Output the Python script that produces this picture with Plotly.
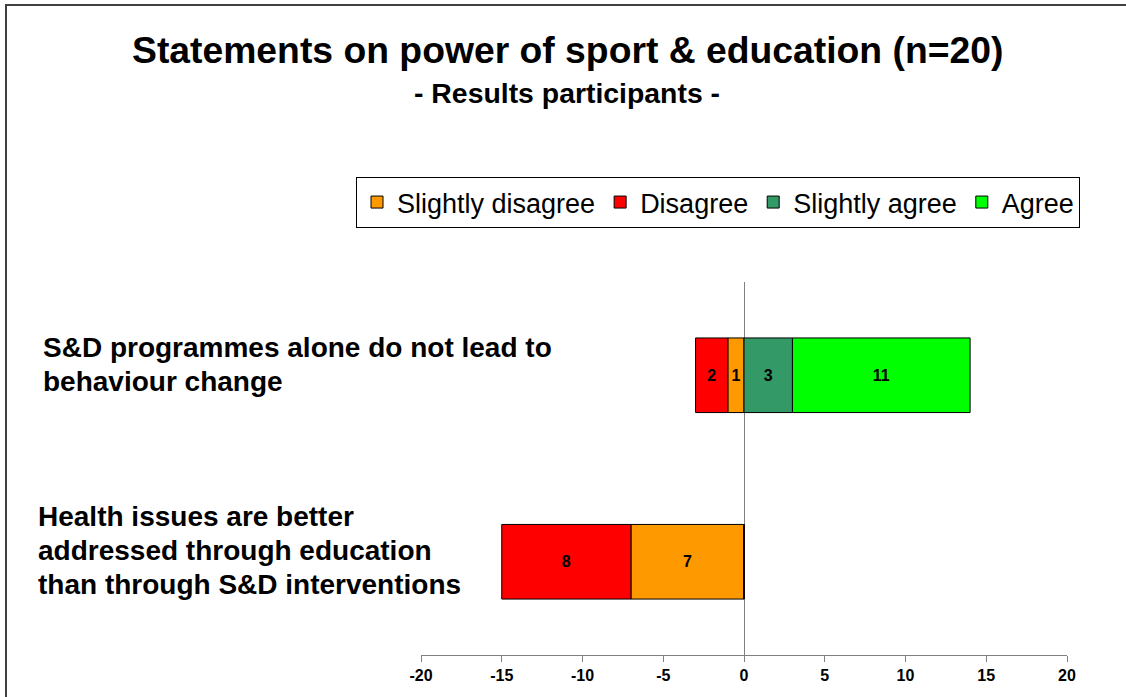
import plotly.graph_objects as go

categories = ["Health issues are better<br>addressed through education<br>than through S&D interventions",
              "S&D programmes alone do not lead to<br>behaviour change"]
series_names = ["Slightly disagree", "Disagree", "Slightly agree", "Agree"]
series_values = {
    "Slightly disagree": [-7, -1],
    "Disagree": [-8, -2],
    "Slightly agree": [0, 3],
    "Agree": [0, 11],
}
series_colors = {
    "Slightly disagree": "#FF9900",
    "Disagree": "#FF0000",
    "Slightly agree": "#339966",
    "Agree": "#00FF00",
}
tick_vals = [-20, -15, -10, -5, 0, 5, 10, 15, 20]
label_x_px = [36, 41]

FONT = "Liberation Sans, Arial, sans-serif"
W, H = 1126, 697
L, R, T, B = 421, 59, 282, 42
pw, ph = W - L - R, H - T - B

fig = go.Figure()
for name in series_names:
    vals = series_values[name]
    fig.add_trace(go.Bar(
        y=list(range(len(categories))), x=vals, orientation="h", name=name,
        marker=dict(color=series_colors[name], line=dict(color="black", width=1)),
        text=[str(abs(v)) if v != 0 else "" for v in vals],
        textposition="inside", insidetextanchor="middle",
        textfont=dict(family=FONT, size=16, color="black", weight="bold"),
        textangle=0,
        width=0.4,
    ))

annotations = []
LINE_H = 34
for i, cat in enumerate(categories):
    lines = cat.split("<br>")
    n = len(lines)
    for k, line in enumerate(lines):
        off = -11 + (k - (n - 1) / 2) * LINE_H
        annotations.append(dict(
            x=(label_x_px[i] - L) / pw, xref="paper", y=i, yref="y",
            text="<b>" + line + "</b>", showarrow=False, xanchor="left", yanchor="middle",
            align="left", yshift=-off, font=dict(family=FONT, size=28, color="black"),
        ))
annotations.append(dict(
    x=(567 - L) / pw, xref="paper", y=(655 - 50) / ph, yref="paper",
    text="<b>Statements on power of sport & education (n=20)</b>",
    showarrow=False, xanchor="center", yanchor="middle",
    font=dict(family=FONT, size=37.3, color="black"),
))
annotations.append(dict(
    x=(567 - L) / pw, xref="paper", y=(655 - 93) / ph, yref="paper",
    text="<b>- Results participants -</b>", showarrow=False, xanchor="center", yanchor="middle",
    font=dict(family=FONT, size=28.4, color="black"),
))

fig.update_layout(
    width=W, height=H,
    margin=dict(l=L, r=R, t=T, b=B),
    paper_bgcolor="white", plot_bgcolor="white",
    barmode="relative",
    showlegend=True,
    legend=dict(
        orientation="h", x=(356 - L) / pw, y=(655 - 177) / ph, xanchor="left", yanchor="top",
        bordercolor="black", borderwidth=1, bgcolor="white",
        font=dict(family=FONT, size=27, color="black"),
        traceorder="normal", itemwidth=30, tracegroupgap=0,
    ),
    xaxis=dict(
        range=[-20, 20], tickvals=tick_vals, ticktext=[str(v) for v in tick_vals],
        showgrid=False, zeroline=True, zerolinecolor="#808080", zerolinewidth=1,
        showline=True, linecolor="#808080", linewidth=1,
        ticks="outside", ticklen=6, tickcolor="#808080",
        tickfont=dict(family=FONT, size=16, color="black", weight="bold"),
        fixedrange=True,
    ),
    yaxis=dict(
        range=[-0.5, 1.5], showticklabels=False, showgrid=False, zeroline=False,
        showline=False, ticks="", fixedrange=True,
    ),
    annotations=annotations,
    shapes=[dict(
        type="rect", xref="paper", yref="paper",
        x0=(6 - L) / pw, x1=(1200 - L) / pw, y0=(655 - 760) / ph, y1=(655 - 5) / ph,
        line=dict(color="#404040", width=2), fillcolor="rgba(0,0,0,0)", layer="below",
    )],
)

fig.write_html("out.html", config={"displayModeBar": False},
               post_script="document.body.style.margin='0';document.body.style.overflow='hidden';")
